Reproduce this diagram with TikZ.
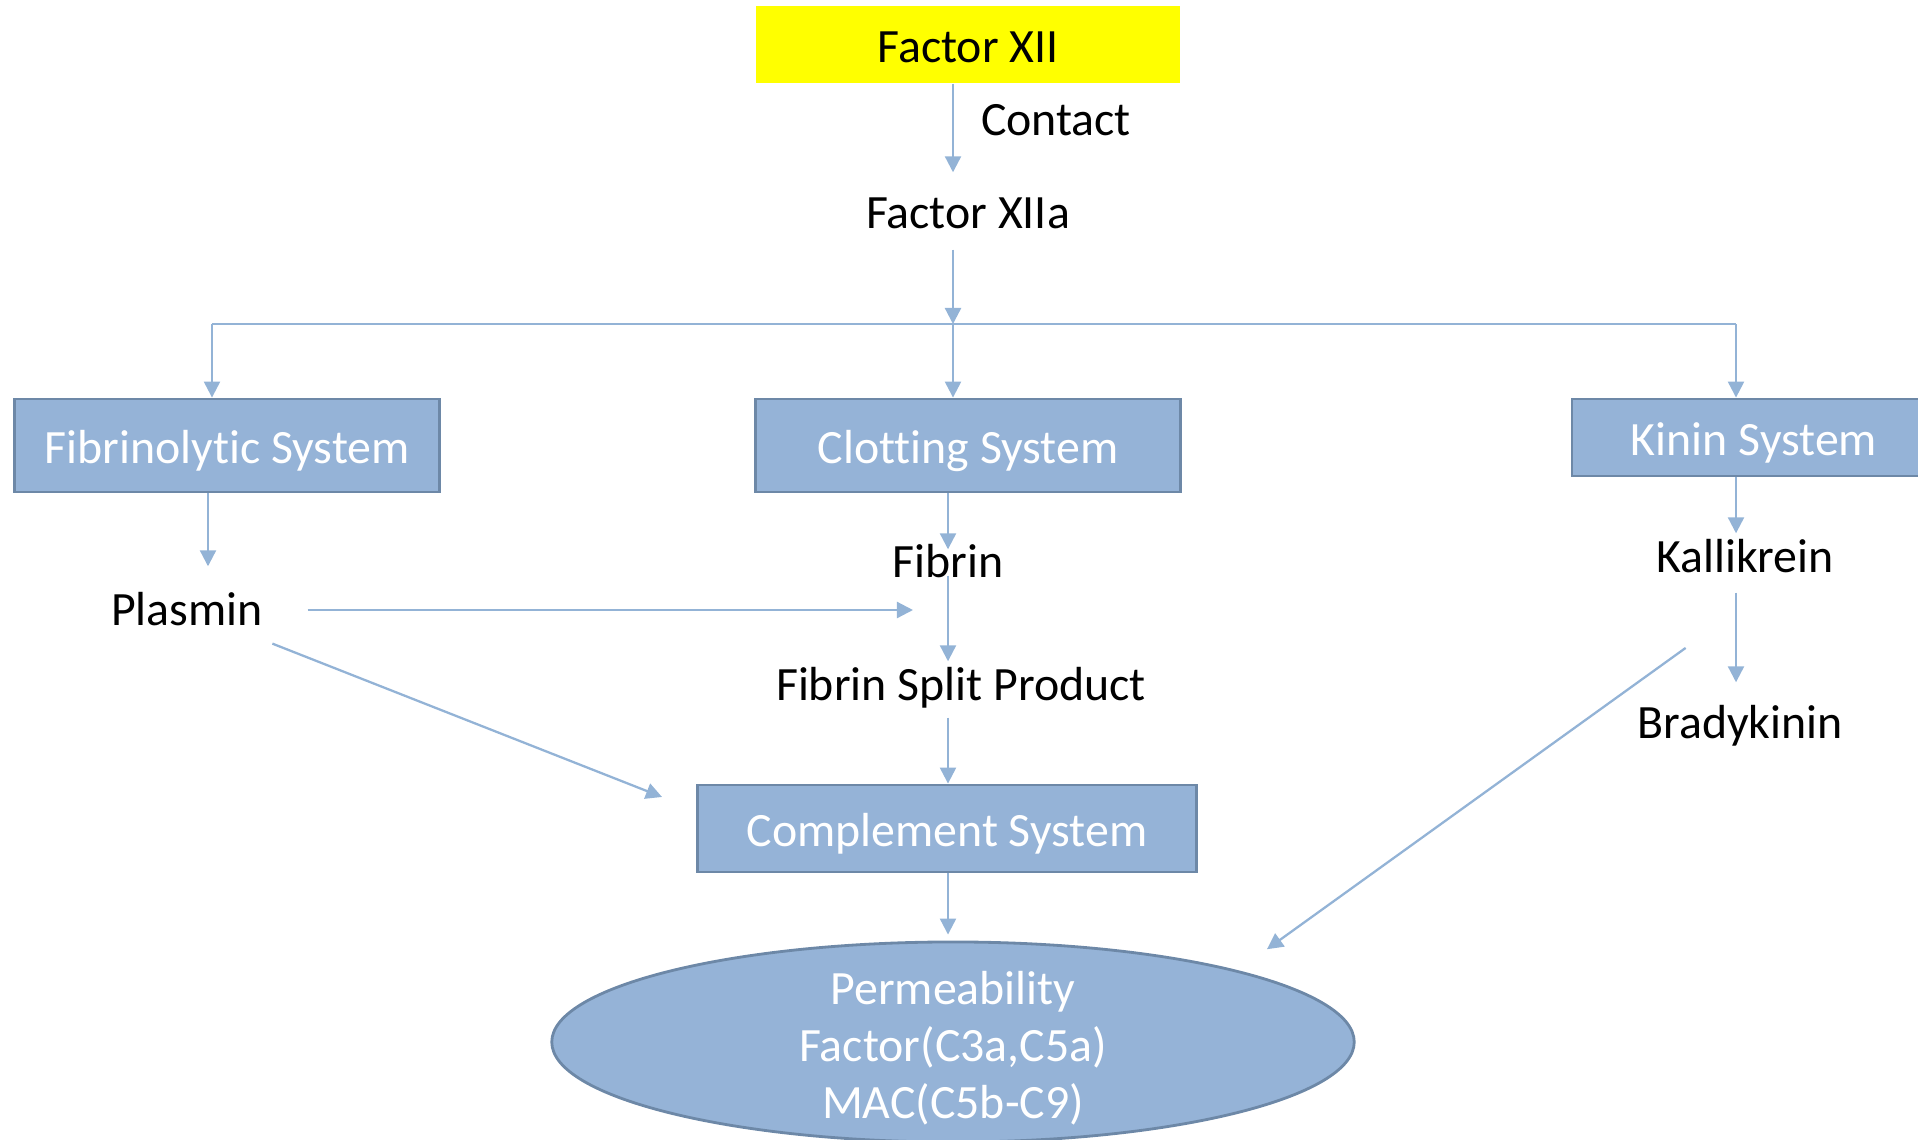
\documentclass[tikz,border=0pt]{standalone}
\usepackage{fontspec}
\setmainfont{Carlito}[Ligatures=NoCommon]
\usepackage{tikz}
\usetikzlibrary{positioning}
\usetikzlibrary{calc,arrows.meta,shapes.geometric}
\definecolor{sysblue}{HTML}{95B3D7}
\definecolor{sysedge}{HTML}{6D88A7}
\definecolor{lineblue}{HTML}{93B3D6}
\definecolor{xiiyellow}{RGB}{255,255,0}

\begin{document}
\begin{tikzpicture}[x=0.01cm, y=-0.01cm,
    every node/.style={font=\fontsize{13.6}{16.2}\selectfont},
    txt/.style={inner sep=0pt, text height=0.38cm, text depth=0.08cm},
    sysbox/.style={inner sep=0pt, text height=0.41cm, text depth=0.05cm, draw=sysedge, line width=0.8pt, fill=sysblue, text=white},
    arr/.style={draw=lineblue, line width=0.65pt, -{Triangle[length=0.16cm,width=0.16cm]}}]
    \useasboundingbox (0,0) rectangle (1918,1139);
    \node(XII) [inner sep=0pt, text height=0.41cm, text depth=0.05cm, fill=xiiyellow, minimum width=4.24cm, minimum height=0.77cm] at (968,44.5) {Factor XII};
    \node(contact) [txt] at (1056,120) {Contact};
    \node(XIIa) [txt] at (968,213) {Factor XIIa};
    \node(fibsys) [sysbox, minimum width=4.24cm, minimum height=0.93cm] at (227,445.5) {Fibrinolytic System};
    \node(clotsys) [sysbox, minimum width=4.24cm, minimum height=0.93cm] at (968,445.5) {Clotting System};
    \node(kininsys) [sysbox, minimum width=3.64cm, minimum height=0.77cm] at (1754,437.5) {Kinin System};
    \node(plasmin) [txt] at (187,610) {Plasmin};
    \node(fibrin) [txt] at (948,562) {Fibrin};
    \node(fsp) [txt] at (961,685) {Fibrin Split Product};
    \node(compsys) [sysbox, minimum width=4.98cm, minimum height=0.87cm] at (947,828.5) {Complement System};
    \node(kall) [txt] at (1745,557) {Kallikrein};
    \node(brady) [txt] at (1740,723) {Bradykinin};
    \node(perm) [ellipse, draw=sysedge, line width=0.8pt, fill=sysblue, text=white, align=center, inner sep=-0.25cm,
        minimum width=8.02cm, minimum height=2cm] at (953,1042) {\rule{0pt}{0.46cm}Permeability\\Factor(C3a,C5a)\\MAC(C5b-C9)};

    \coordinate(bus) at (953,324);
    \coordinate(busL) at (212,324);
    \coordinate(busR) at (1736,324);
    \coordinate(lcol) at (208,0);
    \coordinate(mcol) at (948,0);

    \draw[arr, shorten >=0.17cm](XII.south -| bus) -- (XIIa.north -| bus);
    \draw[arr, shorten <=0.13cm](XIIa.south -| bus) -- (bus);
    \draw[lineblue, line width=0.65pt](busL) -- (busR);
    \draw[arr](busL) -- (busL |- fibsys.north);
    \draw[arr](bus) -- (bus |- clotsys.north);
    \draw[arr](busR) -- (busR |- kininsys.north);
    \draw[arr, shorten >=0.2cm](fibsys.south -| lcol) -- (plasmin.north -| lcol);
    \draw[arr, shorten >=-0.11cm](clotsys.south -| mcol) -- (fibrin.north -| mcol);
    \draw[arr, shorten <=-0.1cm](fibrin.south -| mcol) -- (fsp.north -| mcol);
    \draw[arr, shorten <=0.09cm](fsp.south -| mcol) -- (compsys.north -| mcol);
    \draw[arr, shorten >=0.06cm](compsys.south -| mcol) -- (perm.north -| mcol);
    \draw[arr](kininsys.south -| busR) -- (kall.north -| busR);
    \draw[arr, shorten <=0.12cm, shorten >=0.17cm](kall.south -| busR) -- (brady.north -| busR);
    \draw[arr, shorten <=0.44cm, shorten >=0.35cm](plasmin.east) -- (plasmin.east -| mcol);
    \draw[arr, shorten <=0.27cm, shorten >=0.37cm](plasmin) -- ($(compsys.north west)!0.3!(compsys.south west)$);
    \draw[arr, shorten <=1.15cm, shorten >=0.36cm]($(kall.south)!0.38!(kall.south east)$) -- (perm.north east);
\end{tikzpicture}
\end{document}
